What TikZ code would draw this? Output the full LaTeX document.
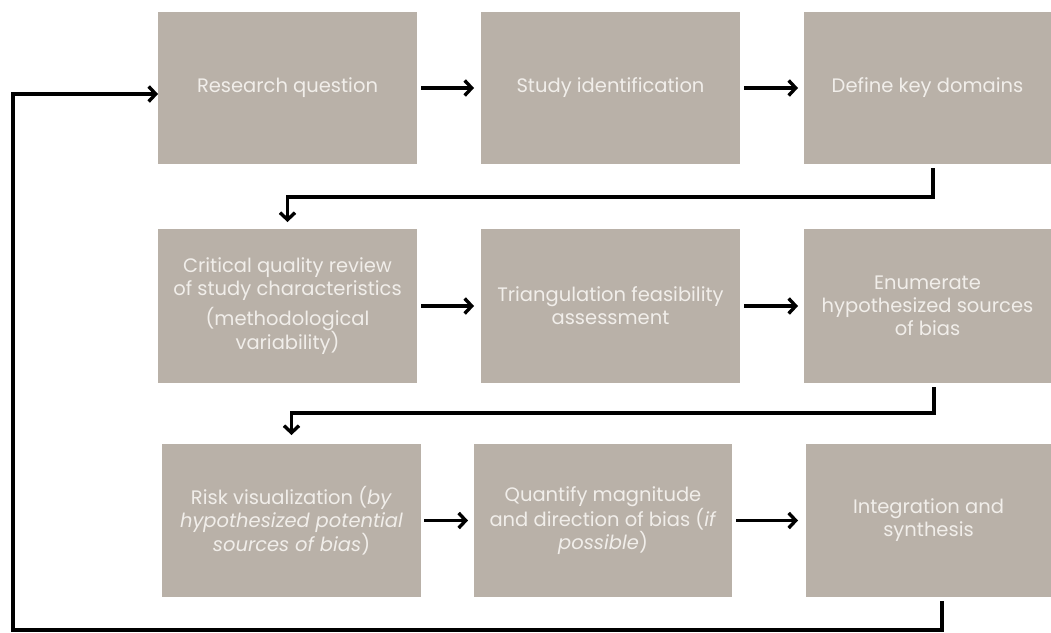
\documentclass[tikz,border=0pt]{standalone}
\usepackage{fontspec}
\setmainfont{Poppins}
\usetikzlibrary{arrows.meta}
\definecolor{boxfill}{HTML}{B9B1A8}
\definecolor{boxtext}{HTML}{F1EEEA}
\tikzset{
  stepbox/.style={fill=boxfill, draw=none, anchor=north west, outer sep=0pt, inner sep=2pt,
    text=boxtext, align=center, font=\fontsize{19.5}{23}\selectfont},
  arr/.style={line width=3.4pt, -{Straight Barb[length=7pt,width=15pt]}},
  conn/.style={line width=3.4pt}
}
\begin{document}
\begin{tikzpicture}[x=1pt,y=-1pt]
\useasboundingbox (0,0) rectangle (1051,632);
\node[stepbox, minimum width=259pt, minimum height=152pt] (b1) at (158,12) {Research question};
\node[stepbox, minimum width=259pt, minimum height=152pt] (b2) at (481,12) {Study identification};
\node[stepbox, minimum width=247pt, minimum height=152pt] (b3) at (804,12) {Define key domains};
\node[stepbox, minimum width=259pt, minimum height=154pt] (b4) at (158,229) {Critical quality review\\of study characteristics\\[6pt](methodological\\variability)};
\node[stepbox, minimum width=259pt, minimum height=154pt] (b5) at (481,229) {Triangulation feasibility\\assessment};
\node[stepbox, minimum width=247pt, minimum height=154pt] (b6) at (804,229) {Enumerate\\hypothesized sources\\of bias};
\node[stepbox, minimum width=259pt, minimum height=153pt] (b7) at (162,444) {Risk visualization (\textit{by}\\\textit{hypothesized potential}\\\textit{sources of bias})};
\node[stepbox, minimum width=258pt, minimum height=153pt] (b8) at (474,444) {Quantify magnitude\\and direction of bias (\textit{if}\\\textit{possible})};
\node[stepbox, minimum width=245pt, minimum height=153pt] (b9) at (806,444) {Integration and\\synthesis};
\coordinate (fbl) at (13,630);
% row arrows
\draw[arr, shorten <=4pt, shorten >=7pt] (b1) -- (b2);
\draw[arr, shorten <=4pt, shorten >=6pt] (b2.east) -- (b3.west);
\draw[arr, shorten <=4pt, shorten >=7pt] (b4) -- (b5);
\draw[arr, shorten <=4pt, shorten >=6pt] (b5.east) -- (b6.west);
\draw[arr, shorten <=3pt, shorten >=6pt] (b7) -- (b8);
\draw[arr, shorten <=4pt, shorten >=8pt] (b8.east) -- (b9.west);
% elbow connectors
\draw[arr, shorten <=4pt, shorten >=7pt] ([xshift=5.5pt]b3.south) -- ++(0,33) -| (b4.north);
\draw[arr, shorten <=4pt, shorten >=9pt] ([xshift=6.5pt]b6.south) -- ++(0,30) -| (b7.north);
% feedback loop
\draw[arr, shorten <=4pt] ([xshift=13.5pt]b9.south) |- (fbl) |- ([yshift=-6pt]b1.west);
\end{tikzpicture}
\end{document}
